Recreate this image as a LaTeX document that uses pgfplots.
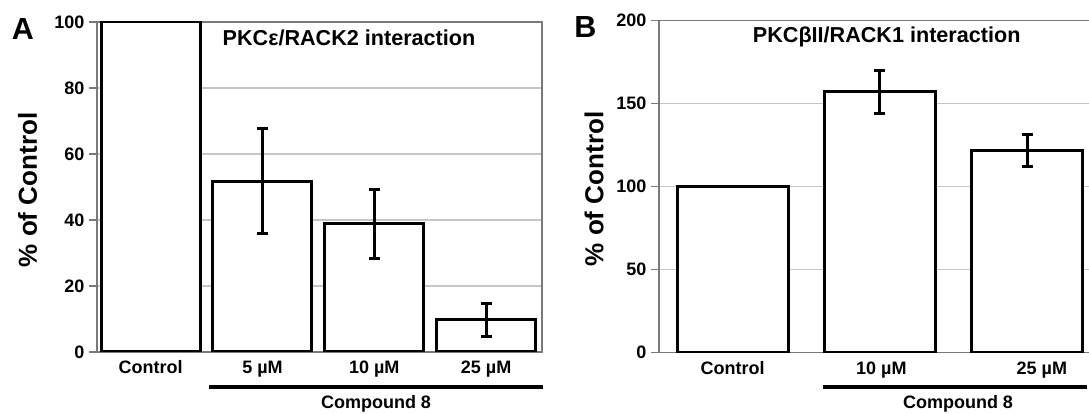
\documentclass[border=0pt]{standalone}
\usepackage{fontspec}
\setmainfont{Liberation Sans}
\usepackage{pgfplots}
\pgfplotsset{compat=1.18}
\definecolor{axgray}{HTML}{7A7A7A}
\definecolor{gridgray}{HTML}{C6C6C6}

\pgfplotsset{
  panel/.style={
    scale only axis, ybar, bar shift=0pt, ymin=0,
    axis line style={axgray, line width=1.3pt},
    ymajorgrids, grid style={gridgray, line width=1.1pt},
    xtick style={draw=none}, ytick pos=left,
    ytick style={axgray, line width=1.3pt},
    tick align=outside, major tick length=8pt,
    tick label style={font=\fontsize{18}{18}\selectfont\bfseries},
    /pgf/number format/assume math mode=true,
    yticklabel style={xshift=-1pt},
    xticklabel style={anchor=base, yshift=-14pt},
    error bars/y dir=both, error bars/y explicit,
    error bars/error bar style={line width=3pt, black},
    error bars/error mark options={rotate=90, mark size=5.5pt, line width=3pt, black},
  },
  bars/.style={draw=black, fill=white, line width=3pt},
}

\begin{document}
\begin{tikzpicture}[x=1pt, y=1pt]
\useasboundingbox (0pt,0pt) rectangle (1089pt,414pt);

% panel A
\begin{axis}[panel, at={(97pt,62pt)}, anchor=south west,
  width=445pt, height=330pt, xmin=-0.48, xmax=3.5, ymax=100,
  ytick={0,20,...,100}, bar width=99pt,
  xtick={0,1,2,3}, xticklabels={Control, 5 µM, 10 µM, 25 µM}]
\addplot[bars, error bars/y dir=none] coordinates {(0,100)};
\addplot[bars] coordinates {
  (1,51.8) +- (0,15.8)
  (2,38.8) +- (0,10.4)
  (3,9.7) +- (0,5.0)
};
\end{axis}

% panel B
\begin{axis}[panel, at={(659pt,61.3pt)}, anchor=south west,
  width=441.75pt, height=332pt, xmin=-0.5, xmax=2.5, ymax=200,
  ytick={0,50,...,200}, bar width=111pt,
  xtick={0,1.01,2.1}, xticklabels={Control, 10 µM, 25 µM}]
\addplot[bars, error bars/y dir=none] coordinates {(0,100)};
\addplot[bars] coordinates {
  (1,157.2) +- (0,13.0)
  (2,121.8) +- (0,9.9)
};
\end{axis}

\begin{scope}[every node/.style={font=\bfseries, inner sep=0pt}]
\node[font=\fontsize{30.5}{30.5}\selectfont\bfseries] at (23pt,385pt) {A};
\node[font=\fontsize{30.5}{30.5}\selectfont\bfseries] at (585.5pt,386.5pt) {B};
\node[font=\fontsize{26}{26}\selectfont\bfseries, rotate=90] at (27.5pt,224pt) {\% of Control};
\node[font=\fontsize{26}{26}\selectfont\bfseries, rotate=90] at (594pt,225pt) {\% of Control};
\node[font=\fontsize{21.6}{21.6}\selectfont\bfseries] at (349pt,376.5pt) {PKCε/RACK2 interaction};
\node[font=\fontsize{21.6}{21.6}\selectfont\bfseries] at (886.7pt,377pt) {PKCβII/RACK1 interaction};
\draw[line width=3.5pt] (209pt,27pt) -- (543pt,27pt);
\draw[line width=3.5pt] (823pt,27pt) -- (1087pt,27pt);
\node[font=\fontsize{18}{18}\selectfont\bfseries] at (376pt,10pt) {Compound 8};
\node[font=\fontsize{18}{18}\selectfont\bfseries] at (958pt,10pt) {Compound 8};
\end{scope}
\end{tikzpicture}
\end{document}
